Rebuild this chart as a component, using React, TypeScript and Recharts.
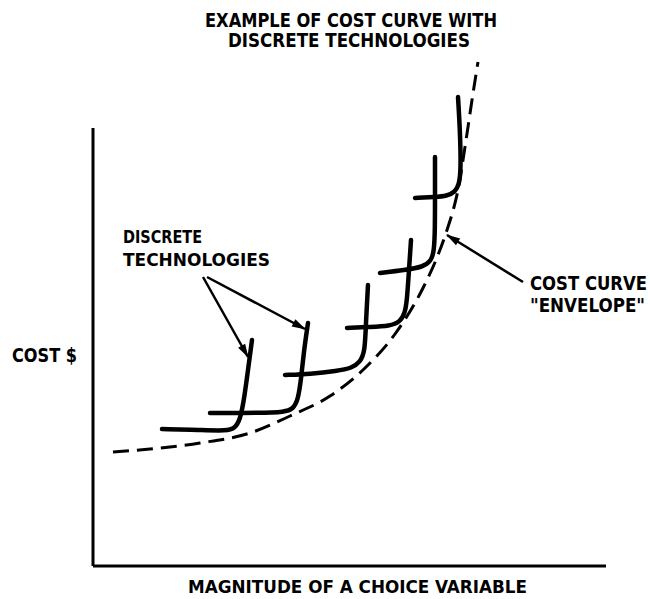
import { LineChart, Line, XAxis, YAxis, ReferenceLine } from "recharts"

type Pt = { x: number; y: number }

// cost curve "envelope" (dashed)
const envelope: Pt[] = [
  { x: 20, y: 114 }, { x: 57, y: 117 }, { x: 107, y: 123 }, { x: 157, y: 133 },
  { x: 197, y: 150 }, { x: 237, y: 170 }, { x: 272, y: 198 }, { x: 302, y: 232 },
  { x: 330, y: 278 }, { x: 345, y: 311 }, { x: 354, y: 336 }, { x: 361, y: 359 },
  { x: 366, y: 381 }, { x: 370, y: 406 }, { x: 375, y: 439 }, { x: 379, y: 466 },
  { x: 385, y: 504 },
]

// discrete technologies
const tech1: Pt[] = [
  { x: 69, y: 137 }, { x: 107, y: 136 }, { x: 134, y: 135 }, { x: 142, y: 138 },
  { x: 147, y: 146 }, { x: 151, y: 166 }, { x: 155, y: 196 }, { x: 159, y: 226 },
]
const tech2: Pt[] = [
  { x: 117, y: 153 }, { x: 167, y: 153 }, { x: 192, y: 154 }, { x: 200, y: 157 },
  { x: 205, y: 166 }, { x: 208, y: 186 }, { x: 211, y: 216 }, { x: 215, y: 243 },
]
const tech3: Pt[] = [
  { x: 192, y: 191 }, { x: 217, y: 192 }, { x: 244, y: 195 }, { x: 259, y: 198 },
  { x: 267, y: 204 }, { x: 272, y: 214 }, { x: 273, y: 246 }, { x: 275, y: 281 },
]
const tech4: Pt[] = [
  { x: 254, y: 238 }, { x: 277, y: 239 }, { x: 297, y: 240 }, { x: 307, y: 244 },
  { x: 312, y: 253 }, { x: 314, y: 266 }, { x: 316, y: 296 }, { x: 318, y: 326 },
]
const tech5: Pt[] = [
  { x: 287, y: 293 }, { x: 312, y: 296 }, { x: 330, y: 299 }, { x: 338, y: 305 },
  { x: 341, y: 314 }, { x: 342, y: 336 }, { x: 342, y: 376 }, { x: 342, y: 409 },
]
const tech6: Pt[] = [
  { x: 322, y: 368 }, { x: 342, y: 369 }, { x: 354, y: 370 }, { x: 362, y: 374 },
  { x: 366, y: 381 }, { x: 368, y: 396 }, { x: 367, y: 436 }, { x: 365, y: 469 },
]
const techs = [tech1, tech2, tech3, tech4, tech5, tech6]

// annotation arrows
const arrowTech1: Pt[] = [{ x: 110, y: 289 }, { x: 155, y: 209 }]
const arrowTech2: Pt[] = [{ x: 114, y: 289 }, { x: 212, y: 237 }]
const arrowEnvelope: Pt[] = [{ x: 430, y: 284 }, { x: 354, y: 331 }]
const arrows = [arrowTech1, arrowTech2, arrowEnvelope]

const titleLines = ["EXAMPLE OF COST CURVE WITH", "DISCRETE TECHNOLOGIES"]
const techLabel = ["DISCRETE", "TECHNOLOGIES"]
const envelopeLabel = ["COST CURVE", "\"ENVELOPE\""]
const yLabel = "COST $"
const xLabel = "MAGNITUDE OF A CHOICE VARIABLE"

const font = "'DejaVu Sans Condensed', 'DejaVu Sans', sans-serif"

const arrowHead = (pts: Pt[]) => (props: any) => {
  const { cx, cy, index } = props
  if (index !== pts.length - 1) return <g key={index} />
  const a = pts[pts.length - 2]
  const b = pts[pts.length - 1]
  const ang = (Math.atan2(-(b.y - a.y), b.x - a.x) * 180) / Math.PI
  return (
    <polygon
      key={index}
      points="1,0 -13,-4 -13,4"
      transform={`translate(${cx},${cy}) rotate(${ang})`}
      fill="#000"
    />
  )
}

function App() {
  const txt = { fontFamily: font, fontWeight: 700, fill: "#000" } as const
  return (
    <div style={{ position: "absolute", left: 0, top: 0, width: 650, height: 599, background: "#fff" }}>
      <LineChart
        width={650}
        height={599}
        margin={{ top: 50, right: 44, bottom: 33, left: 93 }}
      >
        <XAxis type="number" dataKey="x" domain={[0, 513]} hide />
        <YAxis type="number" dataKey="y" domain={[0, 516]} hide />
        <ReferenceLine
          segment={[{ x: 0, y: 0 }, { x: 513, y: 0 }]}
          stroke="#000"
          strokeWidth={3}
          ifOverflow="visible"
        />
        <ReferenceLine
          segment={[{ x: 0, y: 0 }, { x: 0, y: 438 }]}
          stroke="#000"
          strokeWidth={3}
          ifOverflow="visible"
        />
        <Line
          data={envelope}
          dataKey="y"
          type="monotone"
          stroke="#000"
          strokeWidth={3}
          strokeDasharray="16 8"
          dot={false}
          isAnimationActive={false}
        />
        {techs.map((t, i) => (
          <Line
            key={`tech${i}`}
            data={t}
            dataKey="y"
            type="basis"
            stroke="#000"
            strokeWidth={4.5}
            strokeLinecap="round"
            dot={false}
            isAnimationActive={false}
          />
        ))}
        {arrows.map((a, i) => (
          <Line
            key={`arrow${i}`}
            data={a}
            dataKey="y"
            type="linear"
            stroke="#000"
            strokeWidth={2.5}
            dot={arrowHead(a)}
            isAnimationActive={false}
          />
        ))}
      </LineChart>
      <svg
        width={650}
        height={599}
        style={{ position: "absolute", left: 0, top: 0, pointerEvents: "none" }}
      >
        <text {...txt} x={351} y={27} fontSize={19} textAnchor="middle" textLength={292} lengthAdjust="spacingAndGlyphs">
          {titleLines[0]}
        </text>
        <text {...txt} x={349} y={47} fontSize={19} textAnchor="middle" textLength={242} lengthAdjust="spacingAndGlyphs">
          {titleLines[1]}
        </text>
        <text {...txt} x={123} y={243} fontSize={18} textLength={79} lengthAdjust="spacingAndGlyphs">
          {techLabel[0]}
        </text>
        <text {...txt} x={123} y={266} fontSize={18} textLength={147} lengthAdjust="spacingAndGlyphs">
          {techLabel[1]}
        </text>
        <text {...txt} x={530} y={290} fontSize={19} textLength={117} lengthAdjust="spacingAndGlyphs">
          {envelopeLabel[0]}
        </text>
        <text {...txt} x={530} y={312} fontSize={19} textLength={115} lengthAdjust="spacingAndGlyphs">
          {envelopeLabel[1]}
        </text>
        <text {...txt} x={12} y={362} fontSize={19} textLength={65} lengthAdjust="spacingAndGlyphs">
          {yLabel}
        </text>
        <text {...txt} x={188} y={593} fontSize={18} textLength={339} lengthAdjust="spacingAndGlyphs">
          {xLabel}
        </text>
      </svg>
    </div>
  )
}

export default App
